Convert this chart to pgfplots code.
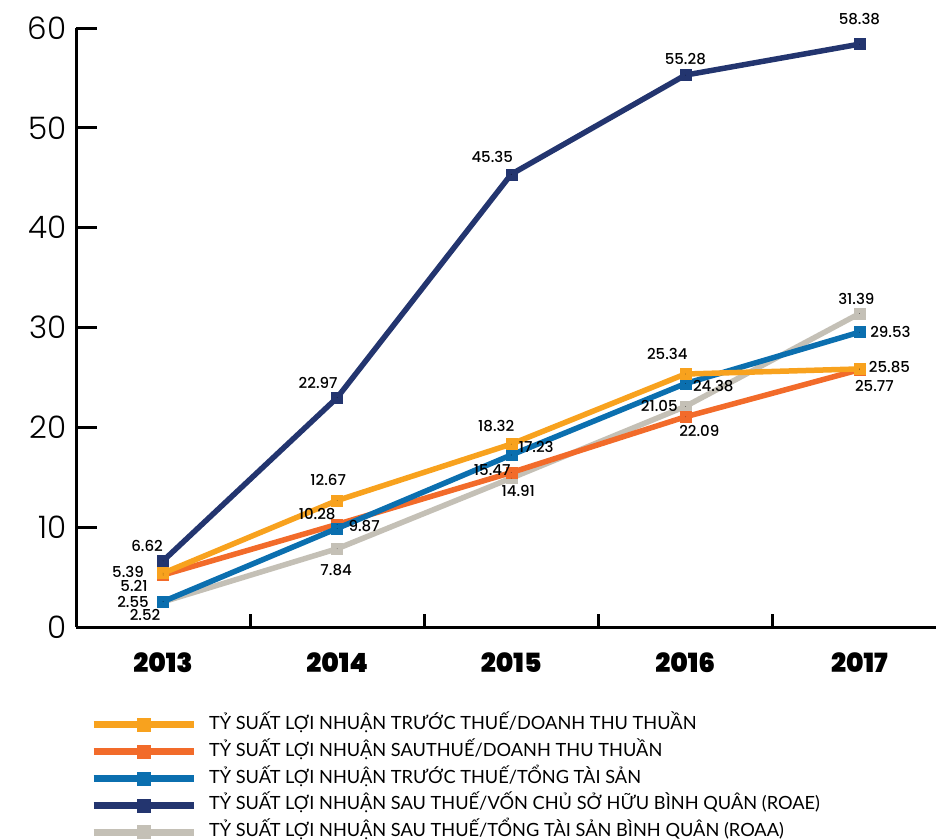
\documentclass[border=0pt]{standalone}
\usepackage{fontspec}
\setmainfont{Poppins}
\newfontfamily\legfont{Lato}
\newfontfamily\yearfont{Poppins Black}
\newfontfamily\medfont{Poppins Medium}
\newfontfamily\lightfont{Poppins Light}
\usepackage{pgfplots}
\usepackage{pgfplotstable}
\pgfplotsset{compat=1.18}
\definecolor{cA}{HTML}{F8A21E}
\definecolor{cB}{HTML}{F26B2A}
\definecolor{cC}{HTML}{0B6FAF}
\definecolor{cD}{HTML}{23356F}
\definecolor{cE}{HTML}{C4C0B6}
\newcommand\lblfont{\medfont\fontsize{15}{15}\selectfont}

\pgfplotstableread{
x y lbl dx dy
0 5.39 5.39 -35 1
1 12.67 12.67 -9 21
2 18.32 18.32 -15 18
3 25.34 25.34 -18 20
4 25.85 25.85 30 2
}\tA
\pgfplotstableread{
x y lbl dx dy
0 5.21 5.21 -29 -11
1 10.28 10.28 -20 10
2 15.47 15.47 -19 2
3 21.05 22.09 14 -14
4 25.77 25.77 15 -16
}\tB
\pgfplotstableread{
x y lbl dx dy
0 2.55 2.55 -30 0
1 9.87 9.87 27 2
2 17.23 17.23 25 8
3 24.38 24.38 28 -2
4 29.53 29.53 31 0
}\tC
\pgfplotstableread{
x y lbl dx dy
0 6.62 6.62 -16 15
1 22.97 22.97 -19 15
2 45.35 45.35 -19 17
3 55.28 55.28 0 16
4 58.38 58.38 0 25
}\tD
\pgfplotstableread{
x y lbl dx dy
0 2.52 2.52 -18 -13
1 7.84 7.84 -1 -21
2 14.91 14.91 7 -13
3 22.09 21.05 -26 1
4 31.39 31.39 -3 15
}\tE

\pgfplotsset{
  ser/.style={color=#1, line width=5.5pt, mark=square*, mark size=5.5pt, mark options={line width=0.4pt, solid}},
  lbl/.style={forget plot, only marks, mark=*, mark size=0.01pt, mark options={draw=none, fill=none},
    point meta=explicit symbolic, nodes near coords,
    visualization depends on={\thisrow{dx} \as \dx},
    visualization depends on={\thisrow{dy} \as \dy},
    every node near coord/.append style={anchor=center, xshift=\dx pt, yshift=\dy pt, font=\lblfont, text=black, inner sep=0pt}},
}

\begin{document}
\begin{tikzpicture}
\useasboundingbox (0,0) rectangle (937pt,839pt);
\begin{axis}[
  at={(76pt,212pt)}, anchor=south west,
  scale only axis, width=860pt, height=599pt,
  xmin=-0.5, xmax=4.44, ymin=0, ymax=60,
  clip=false,
  axis lines*=left,
  axis line style={line width=3pt, black},
  /pgf/number format/assume math mode=true,
  ytick={0,10,...,60},
  tick align=inside,
  major tick length=21pt,
  minor tick length=13pt,
  every tick/.style={line width=3pt, black},
  xtick={0,1,2,3,4},
  xticklabels={2013,2014,2015,2016,2017},
  major x tick style={draw=none},
  minor xtick={0.5,1.5,2.5,3.5},
  minor x tick style={line width=3pt, black},
  yticklabel style={font=\lightfont\fontsize{31}{31}\selectfont, xshift=-6pt},
  xticklabel style={font=\yearfont\fontsize{26.5}{26.5}\selectfont, yshift=-22pt},
  legend style={at={(0.0163,-0.141)}, anchor=north west, draw=none, fill=none,
    inner sep=0pt, outer sep=0pt, row sep=0pt,
    font=\legfont\fontsize{18.2}{18.2}\selectfont,
    /tikz/every odd column/.append style={column sep=12pt},
    nodes={inner sep=0pt, text height=18pt, text depth=8.8pt}},
  legend cell align=left,
  legend image code/.code={\draw[mark repeat=2, mark phase=2, #1, line width=7pt, mark size=6.5pt] plot coordinates {(0pt,0pt) (50pt,0pt) (100pt,0pt)};},
]
\addlegendimage{ser=cA}\addlegendentry{TỶ SUẤT LỢI NHUẬN TRƯỚC THUẾ/DOANH THU THUẦN}
\addlegendimage{ser=cB}\addlegendentry{TỶ SUẤT LỢI NHUẬN SAUTHUẾ/DOANH THU THUẦN}
\addlegendimage{ser=cC}\addlegendentry{TỶ SUẤT LỢI NHUẬN TRƯỚC THUẾ/TỔNG TÀI SẢN}
\addlegendimage{ser=cD}\addlegendentry{TỶ SUẤT LỢI NHUẬN SAU THUẾ/VỐN CHỦ SỞ HỮU BÌNH QUÂN (ROAE)}
\addlegendimage{ser=cE}\addlegendentry{TỶ SUẤT LỢI NHUẬN SAU THUẾ/TỔNG TÀI SẢN BÌNH QUÂN (ROAA)}

\addplot[ser=cE, forget plot] table[x=x,y=y] {\tE};
\addplot[ser=cB, forget plot] table[x=x,y=y] {\tB};
\addplot[ser=cC, forget plot] table[x=x,y=y] {\tC};
\addplot[ser=cA, forget plot] table[x=x,y=y] {\tA};
\addplot[ser=cD, forget plot] table[x=x,y=y] {\tD};

\addplot[lbl] table[x=x,y=y,meta=lbl] {\tA};
\addplot[lbl] table[x=x,y=y,meta=lbl] {\tB};
\addplot[lbl] table[x=x,y=y,meta=lbl] {\tC};
\addplot[lbl] table[x=x,y=y,meta=lbl] {\tD};
\addplot[lbl] table[x=x,y=y,meta=lbl] {\tE};
\end{axis}
\end{tikzpicture}
\end{document}
